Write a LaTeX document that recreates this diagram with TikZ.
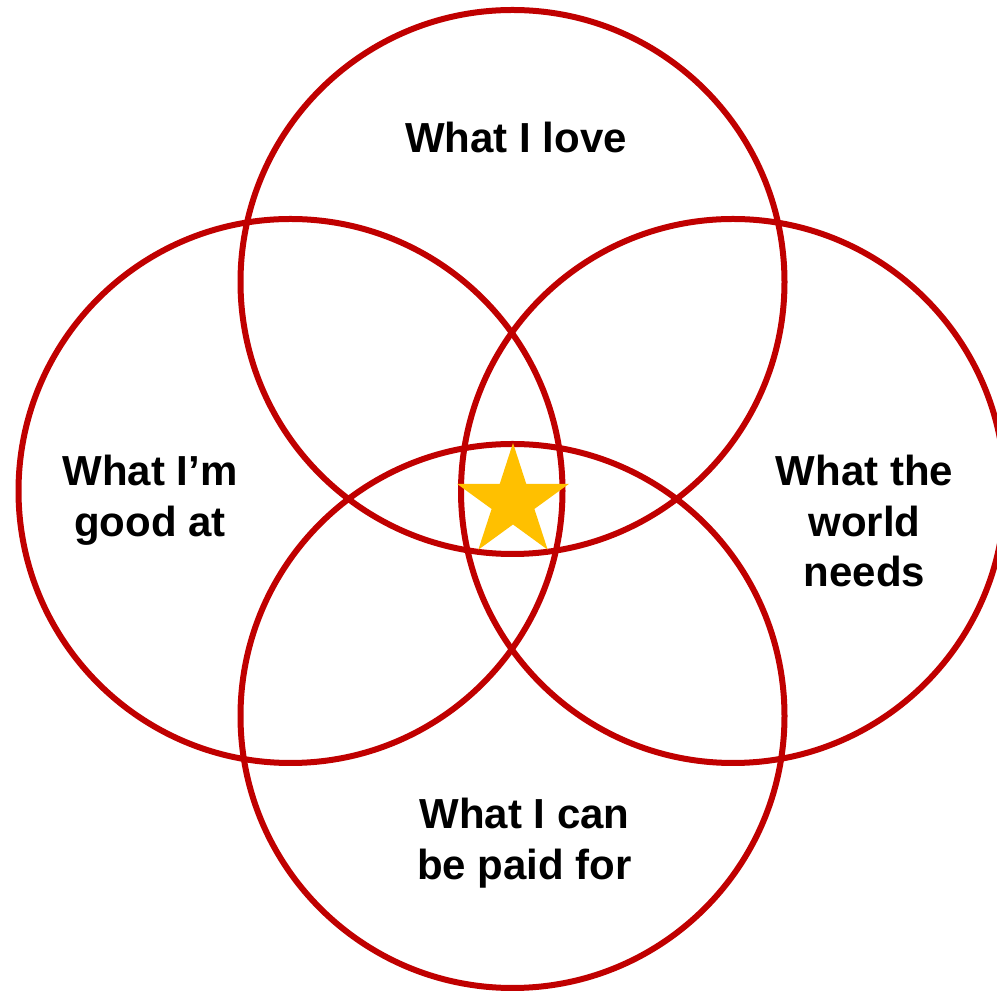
\documentclass[tikz,border=0pt]{standalone}
\usepackage{fontspec}
\setmainfont{Liberation Sans}
\definecolor{ringred}{HTML}{C00000}
\definecolor{stargold}{HTML}{FFC000}
\begin{document}
\begin{tikzpicture}[x=1pt,y=1pt,
  ring/.style={draw=ringred,line width=6pt},
  lbl/.style={anchor=north,inner sep=0pt,align=center,font=\bfseries\fontsize{42}{50.4}\selectfont}]
\useasboundingbox (0,0) rectangle (997,991);
\clip (0,0) rectangle (997,991);
\fill[white] (0,0) rectangle (997,991);
\draw[ring] (512.5,709) circle (272);
\draw[ring] (512.5,275) circle (272);
\draw[ring] (290.5,500) circle (272);
\draw[ring] (733,500) circle (272);
\begin{scope}[shift={(513,489)}]
\fill[stargold] (90:59) -- (126:22.5) -- (162:59) -- (198:22.5) -- (234:59)
  -- (270:22.5) -- (306:59) -- (342:22.5) -- (18:59) -- (54:22.5) -- cycle;
\end{scope}
\node[lbl] (love) at (516,869) {What I love};
\node[lbl] (good) at (150,536) {What I’m\\good at};
\node[lbl] (world) at (864.5,536) {What the\\world\\needs};
\node[lbl] (paid) at (524.5,193) {What I can\\be paid for};
\end{tikzpicture}
\end{document}
